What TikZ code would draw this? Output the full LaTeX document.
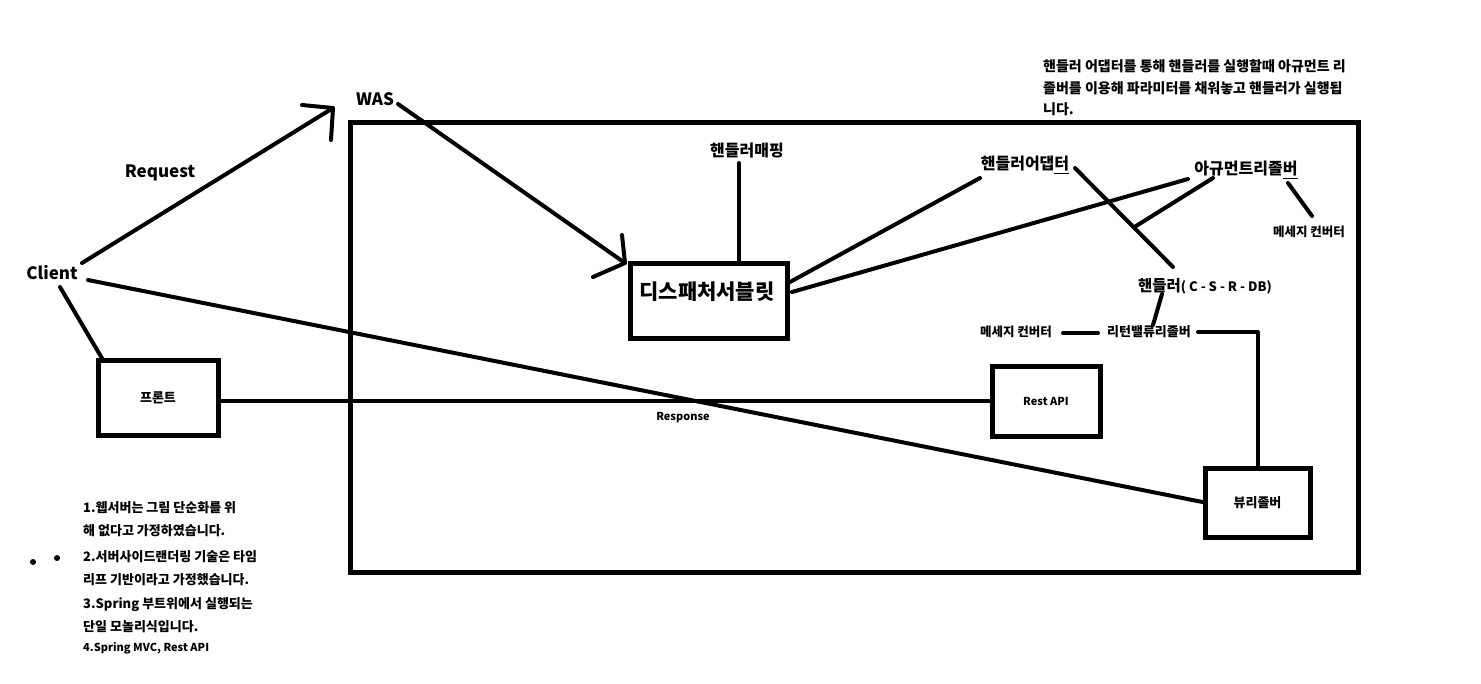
\documentclass[tikz,border=0pt]{standalone}
\usepackage{fontspec}
\setmainfont{Noto Sans CJK KR}
\usetikzlibrary{calc}
\tikzset{
  wbox/.style={draw=black, line width=5pt, outer sep=0pt, inner sep=0pt,
    font=\bfseries\fontsize{13}{16}\selectfont},
  wire/.style={draw=black, line width=4pt, line cap=round, line join=round},
  lbl/.style={font=\bfseries\fontsize{#1}{#1}\selectfont, inner sep=0pt, text=black},
  note/.style={font=\bfseries\fontsize{13}{23}\selectfont, align=left,
    anchor=west, inner sep=0pt},
  dot/.style={circle, fill=black, inner sep=0pt, minimum size=6pt},
}

\begin{document}
\begin{tikzpicture}[x=1pt, y=-1pt]
  \path[fill=white] (0,0) rectangle (1481,683);
  \useasboundingbox (0,0) rectangle (1481,683);

  % boxes
  \node[wbox, minimum width=1008pt, minimum height=450pt] (was) at (854,347) {};
  \node[wbox, minimum width=157pt, minimum height=75pt] (dsp) at (708.5,300.5) {};
  \node[wbox, minimum width=120pt, minimum height=75pt] (front) at (158,397.5) {프론트};
  \node[wbox, minimum width=108pt, minimum height=70pt,
    font=\bfseries\fontsize{11}{13}\selectfont] (rest) at (1046,401) {Rest API};
  \node[wbox, minimum width=105pt, minimum height=69pt] (view) at (1257.5,502.5) {뷰리졸버};

  % labels
  \node[lbl=17] (client) at (52,273) {Client};
  \node[lbl=17] (req) at (160,173) {Request};
  \node[lbl=17] (wasl) at (375,99) {WAS};
  \node[lbl=21] (dspl) at (707,292) {디스패처서블릿};
  \node[lbl=16] (hmap) at (747,151) {핸들러매핑};
  \node[lbl=16] (hada) at (1025,165) {핸들러어댑\underline{터}};
  \node[lbl=16] (argr) at (1246,170) {아규먼트리졸\underline{버}};
  \node[lbl=12.5] (msgr) at (1309,232) {메세지 컨버터};
  \node[lbl=15.5] (hdl) at (1205,286)
    {핸들러{\fontsize{13}{13}\selectfont( C - S - R - DB)}};
  \node[lbl=13] (rvr) at (1149,332) {리턴밸류리졸버};
  \node[lbl=12.5] (msgl) at (1016,332) {메세지 컨버터};
  \node[lbl=11] (resp) at (683,418) {Response};

  % notes
  \node[note, font=\bfseries\fontsize{14}{21.5}\selectfont] (info) at (1043,88)
    {핸들러 어댑터를 통해 핸들러를 실행할때 아규먼트 리\\
     졸버를 이용해 파라미터를 채워놓고 핸들러가 실행됩\\
     니다.};
  \node[note] (n1) at (83,519.5) {1.웹서버는 그림 단순화를 위\\해 없다고 가정하였습니다.};
  \node[note] (n2) at (83,568.5) {2.서버사이드랜더링 기술은 타임\\리프 기반이라고 가정했습니다.};
  \node[note] (n3) at (83,615.5) {3.Spring 부트위에서 실행되는\\단일 모놀리식입니다.};
  \node[note, font=\bfseries\fontsize{11}{13}\selectfont] (n4) at (83,648) {4.Spring MVC, Rest API};
  \node[dot] (d1) at (33,562) {};
  \node[dot] (d2) at (57,558) {};

  % request arrow
  \coordinate (reqtip) at ($(wasl)+(-42,9)$);
  \draw[wire] ($(client)+(30,-10)$) -- (reqtip);
  \draw[wire] (reqtip) ++(-31,-3) -- (reqtip) -- ++(-2,32);

  % was to dispatcher
  \coordinate (dsptip) at ($(dsp.north west)+(-5,0)$);
  \draw[wire] ($(wasl)+(23,5)$) -- (dsptip);
  \draw[wire] (dsptip) ++(-3,-28) -- (dsptip) -- ++(-32,14);

  % dispatcher links
  \draw[wire] ($(hmap)+(-8,12)$) -- ($(dsp.north)+(30.5,0)$);
  \draw[wire] ($(dsp.east)+(3,-18.5)$) -- ($(hada)+(-45,13)$);
  \draw[wire] ($(dsp.east)+(5,-8.5)$) -- ($(argr)+(-58,9)$);

  % handler side
  \coordinate (ha1) at ($(hada)+(50,3)$);
  \coordinate (ha2) at ($(hdl)+(-32,-19)$);
  \draw[wire] (ha1) -- (ha2);
  \draw[wire] ($(argr)+(-33,8)$) -- ($(ha1)!0.6!(ha2)$);
  \draw[wire] ($(argr)+(42,13)$) -- ($(msgr)+(3,-16)$);
  \draw[wire] ($(hdl)+(-43,8)$) -- ($(rvr)+(4,-7)$);
  \draw[wire] ($(msgl)+(47,1)$) -- ($(rvr)+(-51,1)$);
  \draw[wire] ($(rvr)+(49,0)$) -| (view.north);

  % client links
  \draw[wire] ($(client)+(8,14)$) -- ($(front.north west)+(5,0)$);
  \draw[wire] (front.east |- rest.west) -- (rest.west);
  \draw[wire] ($(client)+(36,7)$) -- (view.west);
\end{tikzpicture}
\end{document}
